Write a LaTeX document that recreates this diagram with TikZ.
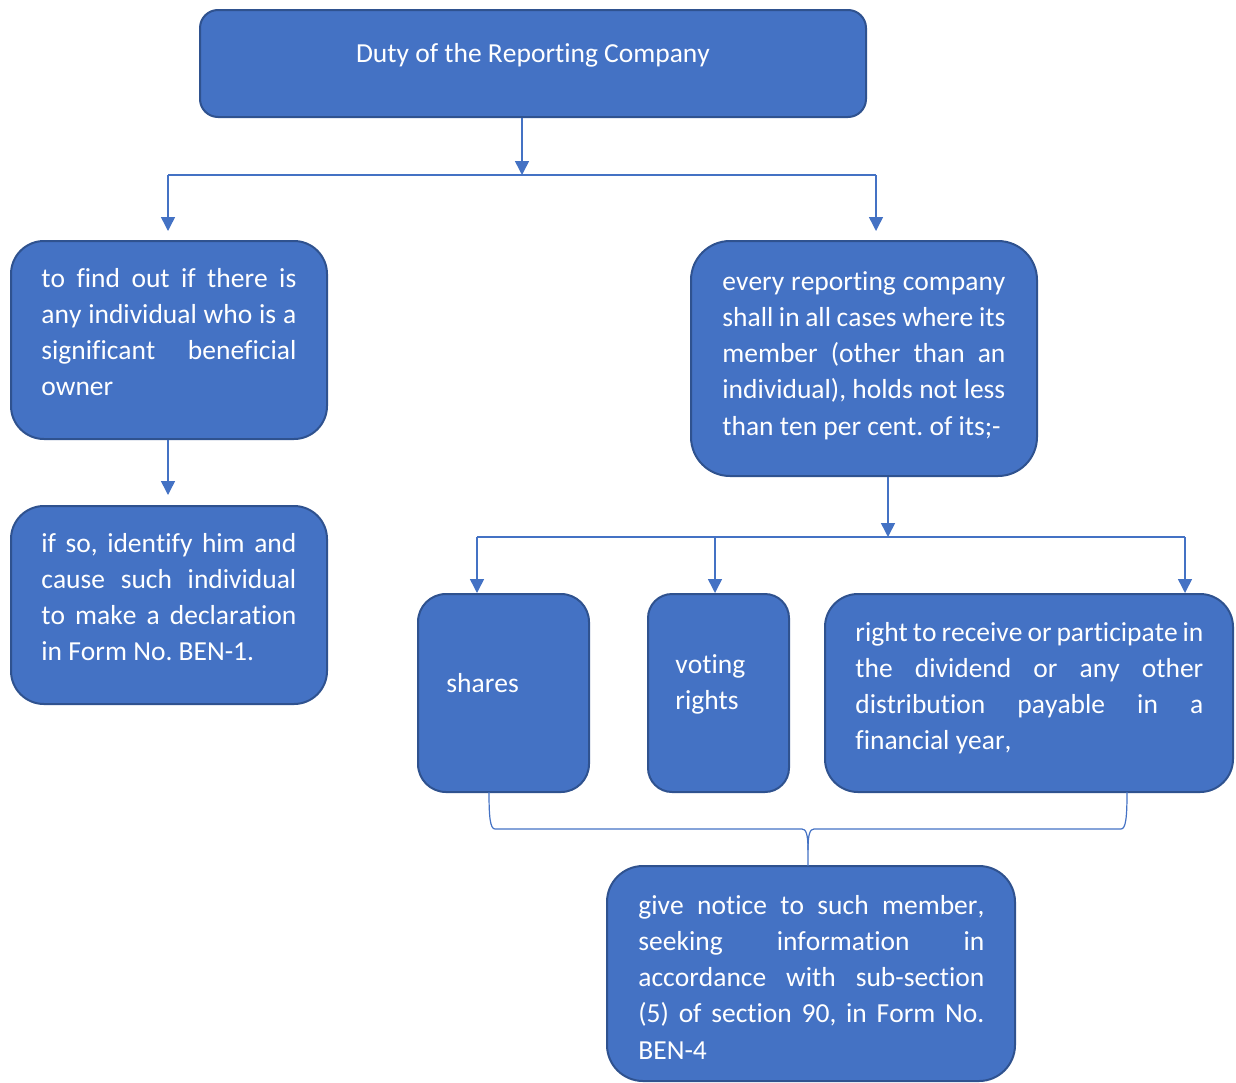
\documentclass[tikz,border=0pt]{standalone}
\usepackage{fontspec}
\setmainfont{Carlito}[Ligatures={NoCommon}, Kerning=Off]
\usetikzlibrary{arrows.meta}

\definecolor{boxfill}{HTML}{4472C4}
\definecolor{boxline}{HTML}{2F528F}
\definecolor{linkcol}{HTML}{4472C4}

% normal interword glue (undo the ragged-right fixed spacing)
\newcommand\wsp{\spaceskip=0pt \xspaceskip=0pt\relax}
% a line stretched to the full text width
\newcommand\jl[1]{\makebox[\hsize][s]{\wsp #1}}

\begin{document}
\frenchspacing
\begin{tikzpicture}[x=0.5pt,y=-0.5pt,
  panel/.style={draw=boxline, fill=boxfill, line width=1pt, rectangle, inner sep=0pt},
  txt/.style={text=white, inner sep=0pt, anchor=base west,
              font=\fontsize{13.75pt}{18.15pt}\selectfont},
  conn/.style={draw=linkcol, line width=0.75pt},
  arr/.style={conn, -{Triangle[width=7pt,length=7pt]}},
  brace/.style={draw=linkcol, line width=0.6pt}]

\useasboundingbox (0,0) rectangle (1236,1082);

% boxes
\node[panel, rounded corners=9pt,   minimum width=333pt, minimum height=53.5pt]  (duty)   at (533,63.5)  {};
\node[panel, rounded corners=16.5pt,minimum width=158pt, minimum height=99pt]    (find)   at (169,340)   {};
\node[panel, rounded corners=16.5pt,minimum width=158pt, minimum height=99pt]    (ident)  at (169,605)   {};
\node[panel, rounded corners=19.5pt,minimum width=173pt, minimum height=117.5pt] (every)  at (864,358.5) {};
\node[panel, rounded corners=14pt,  minimum width=85.5pt,minimum height=99pt]    (shares) at (503.5,693) {};
\node[panel, rounded corners=12pt,  minimum width=70.5pt,minimum height=99pt]    (voting) at (718.5,693) {};
\node[panel, rounded corners=16.5pt,minimum width=204pt, minimum height=99pt]    (divid)  at (1029,693)  {};
\node[panel, rounded corners=18pt,  minimum width=204pt, minimum height=107.5pt] (notice) at (811,973.5) {};

% texts
\node[txt, anchor=base] (dutyt) at (533,62) {Duty of the Reporting Company};
\node[txt, text width=127.5pt] (findt) at (41,287)
  {\wsp\jl{to find out if there is}\\ \jl{any individual who is a}\\ \jl{significant beneficial}\\ owner};
\node[txt, text width=127.5pt] (identt) at (41,552)
  {\wsp\jl{if so, identify him and}\\ \jl{cause such individual}\\ \jl{to make a declaration}\\ in Form No. BEN-1.};
\node[txt, text width=141.5pt] (everyt) at (722,290)
  {\wsp\jl{every reporting company}\\ \jl{shall in all cases where its}\\ \jl{member (other than an}\\ \jl{individual), holds not less}\\ than ten per cent. of its;-};
\node[txt] (sharest) at (446,692) {shares};
\node[txt, text width=50pt] (votingt) at (675,673) {voting\\rights};
\node[txt, text width=174pt] (dividt) at (855,641)
  {\wsp\jl{right to receive or participate in}\\ \jl{the dividend or any other}\\ \jl{distribution payable in a}\\ financial year,};
\node[txt, text width=173pt] (noticet) at (638,914)
  {\wsp\jl{give notice to such member,}\\ \jl{seeking information in}\\ \jl{accordance with sub-section}\\ \jl{(5) of section 90, in Form No.}\\ BEN-4};

% first level split
\coordinate (j1) at (522,175);
\coordinate (bl) at (168,175);
\coordinate (br) at (876,175);
\draw[arr] (duty.south -| j1) -- (j1);
\draw[conn] (bl) -- (br);
\draw[arr, shorten >=4.5pt] (bl) -- (bl |- find.north);
\draw[arr, shorten >=4.5pt] (br) -- (br |- every.north);
\draw[arr, shorten >=5pt] (find.south -| bl) -- (ident.north -| bl);

% second level split
\coordinate (j2) at (888,537);
\coordinate (cl) at (477,537);
\coordinate (cm) at (715,537);
\coordinate (cr) at (1185,537);
\draw[arr] (every.south -| j2) -- (j2);
\draw[conn] (cl) -- (cr);
\draw[arr] (cl) -- (cl |- shares.north);
\draw[arr] (cm) -- (cm |- voting.north);
\draw[arr] (cr) -- (cr |- divid.north);

% brace joining the three items to the notice
\coordinate (bL) at (489,792);
\coordinate (bR) at (1127,792);
\coordinate (bC) at (808,829);
\draw[brace] (bL) .. controls (489,816) and (490,829) .. (495,829)
  -- (802,829) .. controls (806,829) and (808,834) .. (808,850)
  -- (808,866);
\draw[brace] (bR) .. controls (1127,816) and (1126,829) .. (1121,829)
  -- (814,829) .. controls (810,829) and (808,834) .. (808,850);

\end{tikzpicture}
\end{document}
